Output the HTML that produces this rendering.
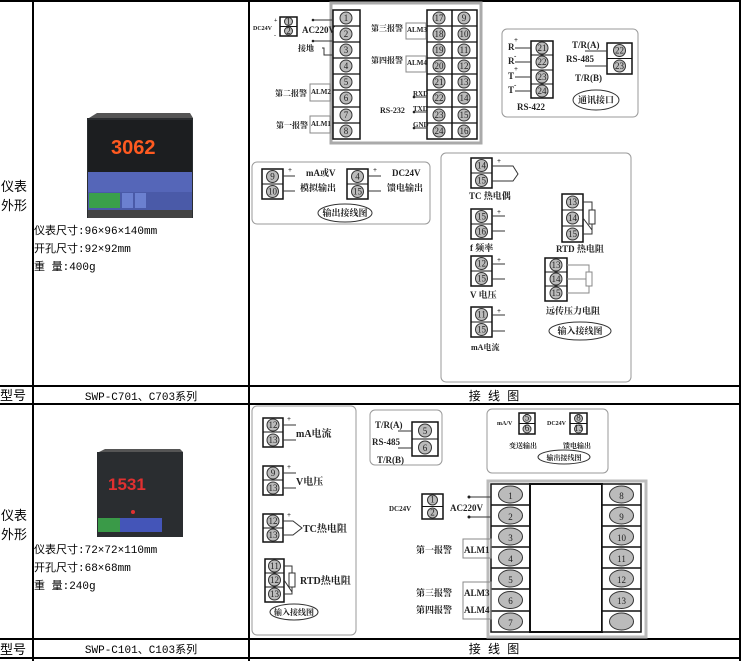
<!DOCTYPE html>
<html><head><meta charset="utf-8"><style>
html,body{margin:0;padding:0;background:#fff;width:741px;height:661px;overflow:hidden}
svg{display:block}
.t{font-family:"Liberation Serif","Noto Serif CJK SC",serif;font-weight:bold;fill:#222}
.s{font-family:"Liberation Mono","WenQuanYi Zen Hei",monospace;fill:#000}
.n{font-family:"Liberation Serif",serif;font-size:9px;text-anchor:middle;fill:#222}
.c{fill:#bbb;stroke:#333;stroke-width:1}
.b{fill:#fff;stroke:#111;stroke-width:1.5}
.g{fill:none;stroke:#999;stroke-width:1}
.l{stroke:#333;stroke-width:1;fill:none}
</style></head><body>
<svg width="741" height="661" viewBox="0 0 741 661" xmlns="http://www.w3.org/2000/svg">
<!-- table grid -->
<g stroke="#000" stroke-width="2" fill="none">
<line x1="0" y1="1" x2="741" y2="1"/>
<line x1="0" y1="386" x2="741" y2="386"/>
<line x1="0" y1="404" x2="741" y2="404"/>
<line x1="0" y1="639" x2="741" y2="639"/>
<line x1="0" y1="658" x2="741" y2="658"/>
<line x1="33" y1="0" x2="33" y2="661"/>
<line x1="249" y1="0" x2="249" y2="661"/>
<line x1="740" y1="0" x2="740" y2="661"/>
</g>
<g class="s" font-size="13">
<text x="1" y="191">仪表</text><text x="1" y="210">外形</text>
<text x="1" y="520">仪表</text><text x="1" y="539">外形</text>
<text x="0" y="400">型号</text><text x="0" y="654">型号</text>
</g>
<g class="s" font-size="11">
<text x="34" y="234">仪表尺寸:96×96×140mm</text>
<text x="34" y="252">开孔尺寸:92×92mm</text>
<text x="34" y="270">重 量:400g</text>
<text x="34" y="553">仪表尺寸:72×72×110mm</text>
<text x="34" y="571">开孔尺寸:68×68mm</text>
<text x="34" y="589">重 量:240g</text>
<text x="141" y="400" text-anchor="middle">SWP-C701、C703系列</text>
<text x="141" y="653" text-anchor="middle">SWP-C101、C103系列</text>
<text x="494" y="400" text-anchor="middle" font-size="12">接 线 图</text>
<text x="494" y="653" text-anchor="middle" font-size="12">接 线 图</text>
</g>
<!-- instrument photo 1 -->
<g>
<rect x="87" y="118" width="106" height="100" fill="#2a2d30"/>
<polygon points="89,118 97,113 190,113 193,118" fill="#555"/>
<rect x="88" y="120" width="104" height="52" fill="#1c1e20"/>
<text x="111" y="154" font-family="Liberation Sans,sans-serif" font-size="20" font-weight="bold" fill="#ff5a20">3062</text>
<rect x="88" y="172" width="104" height="20" fill="#5566b8"/>
<rect x="88" y="192" width="104" height="18" fill="#4a5aa8"/>
<rect x="89" y="193" width="31" height="15" fill="#3aa04a"/>
<rect x="122" y="193" width="11" height="15" fill="#6b80d0"/>
<rect x="135" y="193" width="11" height="15" fill="#6b80d0"/>
<rect x="88" y="210" width="104" height="8" fill="#444"/>
</g>
<!-- instrument photo 2 -->
<g>
<rect x="97" y="452" width="86" height="85" fill="#2a2d30"/>
<polygon points="99,452 105,449 180,449 183,452" fill="#555"/>
<text x="108" y="490" font-family="Liberation Sans,sans-serif" font-size="17" font-weight="bold" fill="#e03030">1531</text>
<circle cx="133" cy="512" r="2" fill="#e03030"/>
<rect x="98" y="518" width="22" height="14" fill="#3a9a48"/>
<rect x="120" y="518" width="42" height="14" fill="#4455b8"/>
</g>

<!-- ===== TOP WIRING ===== -->
<!-- DC24V small -->
<rect x="280" y="17" width="17" height="19" class="b"/><line x1="280" y1="26.5" x2="297" y2="26.5" stroke="#111"/>
<circle cx="288.5" cy="21.5" r="4" class="c"/><circle cx="288.5" cy="31" r="4" class="c"/>
<text x="288.5" y="24.5" class="n" font-size="7">1</text><text x="288.5" y="34" class="n" font-size="7">2</text>
<text x="253" y="30" class="t" font-size="6">DC24V</text>
<text x="274" y="22" class="t" font-size="6">+</text><text x="274" y="37" class="t" font-size="6">-</text>
<!-- main block -->
<rect x="331" y="3" width="150" height="140" fill="#fff" stroke="#aaa" stroke-width="3"/>
<rect x="333" y="10" width="27" height="129" class="b"/>
<rect x="427" y="10" width="50" height="129" class="b"/>
<line x1="452" y1="10" x2="452" y2="139" stroke="#111" stroke-width="1.5"/>
<g stroke="#111" stroke-width="1.2">
<line x1="333" y1="26" x2="360" y2="26"/><line x1="333" y1="42" x2="360" y2="42"/><line x1="333" y1="58" x2="360" y2="58"/><line x1="333" y1="74" x2="360" y2="74"/><line x1="333" y1="90" x2="360" y2="90"/><line x1="333" y1="107" x2="360" y2="107"/><line x1="333" y1="123" x2="360" y2="123"/>
<line x1="427" y1="26" x2="477" y2="26"/><line x1="427" y1="42" x2="477" y2="42"/><line x1="427" y1="58" x2="477" y2="58"/><line x1="427" y1="74" x2="477" y2="74"/><line x1="427" y1="90" x2="477" y2="90"/><line x1="427" y1="107" x2="477" y2="107"/><line x1="427" y1="123" x2="477" y2="123"/>
</g>
<g class="c">
<circle cx="346" cy="18" r="6"/><circle cx="346" cy="34" r="6"/><circle cx="346" cy="50" r="6"/><circle cx="346" cy="66" r="6"/><circle cx="346" cy="82" r="6"/><circle cx="346" cy="98" r="6"/><circle cx="346" cy="115" r="6"/><circle cx="346" cy="131" r="6"/>
<circle cx="439" cy="18" r="6"/><circle cx="439" cy="34" r="6"/><circle cx="439" cy="50" r="6"/><circle cx="439" cy="66" r="6"/><circle cx="439" cy="82" r="6"/><circle cx="439" cy="98" r="6"/><circle cx="439" cy="115" r="6"/><circle cx="439" cy="131" r="6"/>
<circle cx="464" cy="18" r="6"/><circle cx="464" cy="34" r="6"/><circle cx="464" cy="50" r="6"/><circle cx="464" cy="66" r="6"/><circle cx="464" cy="82" r="6"/><circle cx="464" cy="98" r="6"/><circle cx="464" cy="115" r="6"/><circle cx="464" cy="131" r="6"/>
</g>
<g class="n">
<text x="346" y="21">1</text><text x="346" y="37">2</text><text x="346" y="53">3</text><text x="346" y="69">4</text><text x="346" y="85">5</text><text x="346" y="101">6</text><text x="346" y="118">7</text><text x="346" y="134">8</text>
<text x="439" y="21">17</text><text x="439" y="37">18</text><text x="439" y="53">19</text><text x="439" y="69">20</text><text x="439" y="85">21</text><text x="439" y="101">22</text><text x="439" y="118">23</text><text x="439" y="134">24</text>
<text x="464" y="21">9</text><text x="464" y="37">10</text><text x="464" y="53">11</text><text x="464" y="69">12</text><text x="464" y="85">13</text><text x="464" y="101">14</text><text x="464" y="118">15</text><text x="464" y="134">16</text>
</g>
<g class="l">
<line x1="313" y1="20" x2="333" y2="20"/><line x1="313" y1="41" x2="333" y2="41"/>
<polyline points="322,48 324,48 324,55 333,55"/>
<rect x="310" y="84" width="20" height="17" stroke="#888"/>
<rect x="310" y="116" width="20" height="17" stroke="#888"/>
<rect x="406" y="23" width="20" height="16" stroke="#888"/>
<rect x="406" y="56" width="20" height="16" stroke="#888"/>
<line x1="414" y1="97" x2="427" y2="97"/><line x1="414" y1="112" x2="427" y2="112"/><line x1="414" y1="128" x2="427" y2="128"/>
</g>
<g fill="#222"><circle cx="313" cy="20" r="1.3"/><circle cx="313" cy="41" r="1.3"/><circle cx="414" cy="97" r="1.3"/><circle cx="414" cy="112" r="1.3"/><circle cx="414" cy="128" r="1.3"/></g>
<g class="t" font-size="9">
<text x="302" y="33">AC220V</text>
<text x="298" y="51" font-size="8">接地</text>
<text x="275" y="96" font-size="8">第二报警</text><text x="311" y="94" font-size="7">ALM2</text>
<text x="276" y="128" font-size="8">第一报警</text><text x="311" y="126" font-size="7">ALM1</text>
<text x="371" y="31" font-size="8">第三报警</text><text x="407" y="32" font-size="7">ALM3</text>
<text x="371" y="63" font-size="8">第四报警</text><text x="407" y="65" font-size="7">ALM4</text>
<text x="413" y="96" font-size="7">RXD</text><text x="380" y="113" font-size="8">RS-232</text><text x="413" y="111" font-size="7">TXD</text><text x="413" y="127" font-size="7">GND</text>
</g>
<!-- comm box -->
<rect x="502" y="29" width="136" height="88" rx="5" class="g"/>
<rect x="531" y="41" width="22" height="57" class="b"/>
<g stroke="#111"><line x1="531" y1="55" x2="553" y2="55"/><line x1="531" y1="70" x2="553" y2="70"/><line x1="531" y1="84" x2="553" y2="84"/></g>
<g class="c"><circle cx="542" cy="48" r="6"/><circle cx="542" cy="62" r="6"/><circle cx="542" cy="77" r="6"/><circle cx="542" cy="91" r="6"/></g>
<g class="n"><text x="542" y="51">21</text><text x="542" y="65">22</text><text x="542" y="80">23</text><text x="542" y="94">24</text></g>
<g class="l"><line x1="515" y1="48" x2="531" y2="48"/><line x1="515" y1="62" x2="531" y2="62"/><line x1="515" y1="77" x2="531" y2="77"/><line x1="515" y1="91" x2="531" y2="91"/></g>
<g class="t" font-size="9"><text x="508" y="50">R</text><text x="508" y="64">R</text><text x="508" y="79">T</text><text x="508" y="93">T</text>
<text x="514" y="42" font-size="7">+</text><text x="514" y="58" font-size="7">-</text><text x="514" y="71" font-size="7">+</text><text x="514" y="87" font-size="7">-</text>
<text x="517" y="110">RS-422</text><text x="572" y="48">T/R(A)</text><text x="566" y="62">RS-485</text><text x="575" y="81">T/R(B)</text></g>
<rect x="607" y="43" width="25" height="31" class="b"/><line x1="607" y1="58.5" x2="632" y2="58.5" stroke="#111"/>
<g class="c"><circle cx="619.5" cy="50.5" r="6"/><circle cx="619.5" cy="66" r="6"/></g>
<g class="n"><text x="619.5" y="53.5">22</text><text x="619.5" y="69">23</text></g>
<g class="l"><line x1="585" y1="51" x2="607" y2="51"/><line x1="585" y1="66" x2="607" y2="66"/></g>
<ellipse cx="596" cy="100" rx="23" ry="10" class="l"/><text x="596" y="103" class="t" font-size="9" text-anchor="middle">通讯接口</text>
<!-- output box top -->
<rect x="252" y="162" width="178" height="62" rx="5" class="g"/>
<rect x="262" y="169" width="21" height="30" class="b"/><line x1="262" y1="184" x2="283" y2="184" stroke="#111"/>
<rect x="347" y="169" width="21" height="30" class="b"/><line x1="347" y1="184" x2="368" y2="184" stroke="#111"/>
<g class="c"><circle cx="272.5" cy="176.5" r="6"/><circle cx="272.5" cy="191.5" r="6"/><circle cx="357.5" cy="176.5" r="6"/><circle cx="357.5" cy="191.5" r="6"/></g>
<g class="n"><text x="272.5" y="179.5">9</text><text x="272.5" y="194.5">10</text><text x="357.5" y="179.5">4</text><text x="357.5" y="194.5">15</text></g>
<g class="l"><line x1="283" y1="176" x2="295" y2="176"/><line x1="283" y1="191" x2="295" y2="191"/><line x1="368" y1="176" x2="381" y2="176"/><line x1="368" y1="191" x2="381" y2="191"/></g>
<g class="t" font-size="9"><text x="306" y="176">mA或V</text><text x="300" y="191">模拟输出</text><text x="392" y="176">DC24V</text><text x="387" y="191">馈电输出</text>
<text x="288" y="172" font-size="7">+</text><text x="373" y="172" font-size="7">+</text></g>
<ellipse cx="345" cy="213" rx="27" ry="9" class="l"/><text x="345" y="216" class="t" font-size="9" text-anchor="middle">输出接线图</text>
<!-- input box top -->
<rect x="441" y="153" width="190" height="229" rx="5" class="g"/>
<g class="b"><rect x="471" y="158" width="21" height="30"/><rect x="471" y="209" width="21" height="30"/><rect x="471" y="256" width="21" height="30"/><rect x="471" y="307" width="21" height="30"/><rect x="562" y="194" width="21" height="48"/><rect x="545" y="258" width="22" height="43"/></g>
<g stroke="#111"><line x1="471" y1="173" x2="492" y2="173"/><line x1="471" y1="224" x2="492" y2="224"/><line x1="471" y1="271" x2="492" y2="271"/><line x1="471" y1="322" x2="492" y2="322"/><line x1="562" y1="210" x2="583" y2="210"/><line x1="562" y1="226" x2="583" y2="226"/><line x1="545" y1="272" x2="567" y2="272"/><line x1="545" y1="286" x2="567" y2="286"/></g>
<g class="c"><circle cx="481.5" cy="165.5" r="6"/><circle cx="481.5" cy="180.5" r="6"/><circle cx="481.5" cy="216.5" r="6"/><circle cx="481.5" cy="231.5" r="6"/><circle cx="481.5" cy="263.5" r="6"/><circle cx="481.5" cy="278.5" r="6"/><circle cx="481.5" cy="314.5" r="6"/><circle cx="481.5" cy="329.5" r="6"/>
<circle cx="572.5" cy="202" r="6"/><circle cx="572.5" cy="218" r="6"/><circle cx="572.5" cy="234" r="6"/><circle cx="556" cy="265" r="6"/><circle cx="556" cy="279" r="6"/><circle cx="556" cy="293" r="6"/></g>
<g class="n"><text x="481.5" y="168.5">14</text><text x="481.5" y="183.5">15</text><text x="481.5" y="219.5">15</text><text x="481.5" y="234.5">16</text><text x="481.5" y="266.5">12</text><text x="481.5" y="281.5">15</text><text x="481.5" y="317.5">11</text><text x="481.5" y="332.5">15</text>
<text x="572.5" y="205">13</text><text x="572.5" y="221">14</text><text x="572.5" y="237">15</text><text x="556" y="268">13</text><text x="556" y="282">14</text><text x="556" y="296">15</text></g>
<g class="l"><polyline points="492,166 513,166 518,174 513,181 492,181"/>
<line x1="492" y1="216" x2="505" y2="216"/><line x1="492" y1="231" x2="505" y2="231"/><line x1="492" y1="264" x2="505" y2="264"/><line x1="492" y1="279" x2="505" y2="279"/><line x1="492" y1="315" x2="505" y2="315"/><line x1="492" y1="331" x2="505" y2="331"/>
<polyline points="583,202 592,202 592,234 583,234"/><rect x="589" y="210" width="6" height="14" fill="#fff"/><line x1="583" y1="218" x2="592" y2="230"/>
<polyline points="567,265 589,265 589,293 567,293" stroke="#888"/><line x1="567" y1="279" x2="586" y2="279" stroke="#888"/><rect x="586" y="272" width="6" height="14" fill="#fff" stroke="#888"/></g>
<g class="t" font-size="9"><text x="469" y="199">TC 热电偶</text><text x="470" y="251">f 频率</text><text x="470" y="298">V 电压</text><text x="471" y="350" font-size="8">mA电流</text><text x="556" y="252">RTD 热电阻</text><text x="546" y="314">远传压力电阻</text>
<text x="497" y="163" font-size="7">+</text><text x="497" y="214" font-size="7">+</text><text x="497" y="262" font-size="7">+</text><text x="497" y="313" font-size="7">+</text></g>
<ellipse cx="580" cy="331" rx="31" ry="9" class="l"/><text x="580" y="334" class="t" font-size="9" text-anchor="middle">输入接线图</text>

<!-- ===== BOTTOM WIRING ===== -->
<rect x="252" y="406" width="104" height="229" rx="5" class="g"/>
<g class="b"><rect x="263" y="418" width="20" height="29"/><rect x="263" y="466" width="20" height="29"/><rect x="263" y="514" width="20" height="28"/><rect x="265" y="559" width="19" height="43"/></g>
<g stroke="#111"><line x1="263" y1="432" x2="283" y2="432"/><line x1="263" y1="480" x2="283" y2="480"/><line x1="263" y1="528" x2="283" y2="528"/><line x1="265" y1="573" x2="284" y2="573"/><line x1="265" y1="587" x2="284" y2="587"/></g>
<g class="c"><circle cx="273" cy="425" r="6"/><circle cx="273" cy="440" r="6"/><circle cx="273" cy="473" r="6"/><circle cx="273" cy="488" r="6"/><circle cx="273" cy="521" r="6"/><circle cx="273" cy="535" r="6"/><circle cx="274.5" cy="566" r="6"/><circle cx="274.5" cy="580" r="6"/><circle cx="274.5" cy="594" r="6"/></g>
<g class="n"><text x="273" y="428">12</text><text x="273" y="443">13</text><text x="273" y="476">9</text><text x="273" y="491">13</text><text x="273" y="524">12</text><text x="273" y="538">13</text><text x="274.5" y="569">11</text><text x="274.5" y="583">12</text><text x="274.5" y="597">13</text></g>
<g class="l"><line x1="283" y1="425" x2="296" y2="425"/><line x1="283" y1="440" x2="296" y2="440"/><line x1="283" y1="473" x2="296" y2="473"/><line x1="283" y1="488" x2="296" y2="488"/>
<polyline points="283,521 293,521 302,528 293,535 283,535"/>
<polyline points="284,566 292,566 292,594 284,594"/><rect x="289" y="573" width="6" height="14" fill="#fff"/><line x1="284" y1="580" x2="292" y2="592"/></g>
<g class="t" font-size="10"><text x="296" y="437">mA电流</text><text x="296" y="485">V电压</text><text x="303" y="532">TC热电阻</text><text x="300" y="584">RTD热电阻</text>
<text x="287" y="421" font-size="7">+</text><text x="287" y="469" font-size="7">+</text><text x="287" y="517" font-size="7">+</text></g>
<ellipse cx="294" cy="612" rx="24" ry="8" class="l"/><text x="294" y="615" class="t" font-size="8" text-anchor="middle">输入接线图</text>
<!-- RS-485 -->
<rect x="370" y="410" width="72" height="55" rx="5" class="g"/>
<rect x="412" y="422" width="26" height="34" class="b"/><line x1="412" y1="439" x2="438" y2="439" stroke="#111"/>
<g class="c"><circle cx="425" cy="430.5" r="6.5"/><circle cx="425" cy="447.5" r="6.5"/></g>
<g class="n" font-size="10"><text x="425" y="434">5</text><text x="425" y="451">6</text></g>
<g class="l"><line x1="398" y1="431" x2="412" y2="431"/><line x1="398" y1="448" x2="412" y2="448"/></g>
<g class="t" font-size="9"><text x="375" y="428">T/R(A)</text><text x="372" y="445">RS-485</text><text x="377" y="463">T/R(B)</text></g>
<!-- output box bottom -->
<rect x="487" y="409" width="121" height="64" rx="5" class="g"/>
<rect x="519" y="413" width="16" height="21" class="b"/><line x1="519" y1="423.5" x2="535" y2="423.5" stroke="#111"/>
<rect x="570" y="413" width="17" height="21" class="b"/><line x1="570" y1="423.5" x2="587" y2="423.5" stroke="#111"/>
<g class="c"><circle cx="527" cy="418.5" r="4"/><circle cx="527" cy="429" r="4"/><circle cx="578.5" cy="418.5" r="4"/><circle cx="578.5" cy="429" r="4"/></g>
<g class="n" font-size="6"><text x="527" y="420.5">5</text><text x="527" y="431">6</text><text x="578.5" y="420.5">8</text><text x="578.5" y="431">13</text></g>
<g class="t" font-size="6"><text x="497" y="425">mA/V</text><text x="547" y="425">DC24V</text><text x="509" y="448" font-size="7">变送输出</text><text x="563" y="448" font-size="7">馈电输出</text></g>
<ellipse cx="564" cy="457" rx="26" ry="7" class="l"/><text x="564" y="460" class="t" font-size="7" text-anchor="middle">输出接线图</text>
<!-- main block bottom -->
<rect x="488" y="481" width="158" height="156" fill="#fff" stroke="#bbb" stroke-width="3"/>
<rect x="491" y="484" width="39" height="148" class="b" stroke-width="2"/>
<rect x="530" y="484" width="72" height="148" fill="none" stroke="#111" stroke-width="2"/>
<rect x="602" y="484" width="39" height="148" class="b" stroke-width="2"/>
<g stroke="#111" stroke-width="1.5">
<line x1="491" y1="505" x2="530" y2="505"/><line x1="491" y1="526" x2="530" y2="526"/><line x1="491" y1="547" x2="530" y2="547"/><line x1="491" y1="568" x2="530" y2="568"/><line x1="491" y1="589" x2="530" y2="589"/><line x1="491" y1="611" x2="530" y2="611"/>
<line x1="602" y1="505" x2="641" y2="505"/><line x1="602" y1="526" x2="641" y2="526"/><line x1="602" y1="547" x2="641" y2="547"/><line x1="602" y1="568" x2="641" y2="568"/><line x1="602" y1="589" x2="641" y2="589"/><line x1="602" y1="611" x2="641" y2="611"/>
</g>
<g class="c">
<ellipse cx="510.5" cy="494.5" rx="12" ry="8.5"/><ellipse cx="510.5" cy="515.5" rx="12" ry="8.5"/><ellipse cx="510.5" cy="536.5" rx="12" ry="8.5"/><ellipse cx="510.5" cy="557.5" rx="12" ry="8.5"/><ellipse cx="510.5" cy="578.5" rx="12" ry="8.5"/><ellipse cx="510.5" cy="600" rx="12" ry="8.5"/><ellipse cx="510.5" cy="621.5" rx="12" ry="8.5"/>
<ellipse cx="621.5" cy="494.5" rx="12" ry="8.5"/><ellipse cx="621.5" cy="515.5" rx="12" ry="8.5"/><ellipse cx="621.5" cy="536.5" rx="12" ry="8.5"/><ellipse cx="621.5" cy="557.5" rx="12" ry="8.5"/><ellipse cx="621.5" cy="578.5" rx="12" ry="8.5"/><ellipse cx="621.5" cy="600" rx="12" ry="8.5"/><ellipse cx="621.5" cy="621.5" rx="12" ry="8.5"/>
</g>
<g class="n" font-size="12">
<text x="510.5" y="499">1</text><text x="510.5" y="520">2</text><text x="510.5" y="541">3</text><text x="510.5" y="562">4</text><text x="510.5" y="583">5</text><text x="510.5" y="604">6</text><text x="510.5" y="626">7</text>
<text x="621.5" y="499">8</text><text x="621.5" y="520">9</text><text x="621.5" y="541">10</text><text x="621.5" y="562">11</text><text x="621.5" y="583">12</text><text x="621.5" y="604">13</text>
</g>
<rect x="422" y="494" width="21" height="25" class="b"/><line x1="422" y1="506.5" x2="443" y2="506.5" stroke="#111"/>
<g class="c"><circle cx="432.5" cy="500" r="5"/><circle cx="432.5" cy="513" r="5"/></g>
<g class="n" font-size="7"><text x="432.5" y="502.5">1</text><text x="432.5" y="515.5">2</text></g>
<g class="l"><line x1="469" y1="497" x2="491" y2="497"/><line x1="469" y1="517" x2="491" y2="517"/>
<rect x="463" y="539" width="28" height="19" stroke="#888"/><rect x="463" y="582" width="28" height="37" stroke="#888"/></g>
<g fill="#222"><circle cx="469" cy="497" r="1.5"/><circle cx="469" cy="517" r="1.5"/></g>
<g class="t" font-size="9"><text x="389" y="511" font-size="7">DC24V</text><text x="450" y="511">AC220V</text>
<text x="416" y="553">第一报警</text><text x="464" y="553">ALM1</text>
<text x="416" y="596">第三报警</text><text x="464" y="596">ALM3</text>
<text x="416" y="613">第四报警</text><text x="464" y="613">ALM4</text></g>
</svg>
</body></html>
